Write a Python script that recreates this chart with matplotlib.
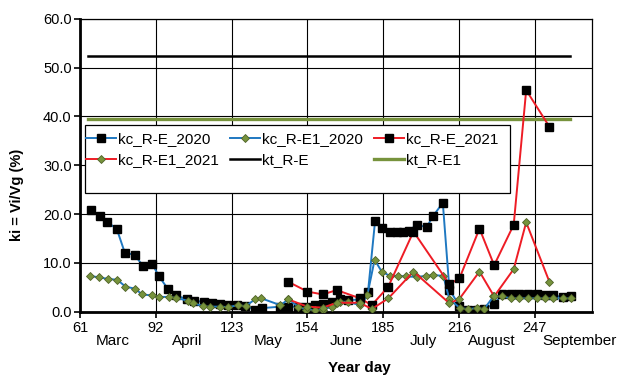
"""Seasonal ki = Vi/Vg curves for the R-E and R-E1 plots, 2020 and 2021."""

import matplotlib

matplotlib.use("Agg")
import matplotlib.pyplot as plt
from matplotlib.patches import Rectangle
from matplotlib.transforms import blended_transform_factory

plt.rcParams["font.family"] = ["Liberation Sans", "DejaVu Sans"]

# kc_R-E, 2020 season
days_e_2020 = [65.4, 69.1, 72.2, 76.0, 79.3, 83.4, 86.8, 90.5, 93.2, 97.0,
               100.4, 104.7, 107.5, 111.8, 114.9, 118.3, 121.7, 125.4, 128.5,
               132.6, 135.4, 143.0, 146.2, 150.3, 153.5, 157.0, 160.4, 164.0,
               167.4, 170.5, 175.6, 178.8, 181.7, 184.4, 187.8, 190.8, 193.3,
               195.7, 198.7, 202.8, 205.3, 209.4, 212.1, 216.2, 219.9, 223.3,
               226.3, 230.4, 233.6, 237.3, 240.7, 244.4, 247.8, 251.2, 254.6,
               258.4, 261.7]
ki_e_2020 = [20.8, 19.6, 18.3, 17.0, 12.1, 11.6, 9.3, 9.8, 7.3, 4.6,
             3.3, 2.5, 2.2, 2.0, 1.8, 1.6, 1.3, 1.3, 1.2,
             0.4, 0.7, 1.0, 1.0, 1.0, 1.0, 1.3, 1.5, 2.0,
             2.5, 2.3, 2.5, 4.0, 18.6, 17.2, 16.3, 16.3, 16.3,
             16.6, 17.8, 17.3, 19.5, 22.3, 4.5, 1.2, 0.4, 0.4,
             0.6, 1.5, 3.5, 3.5, 3.5, 3.5, 3.5, 3.4, 3.3,
             3.0, 3.2]

# kc_R-E1, 2020 season
days_e1_2020 = [65.1, 68.9, 72.4, 76.3, 79.6, 83.4, 86.5, 90.5, 93.4, 97.2,
                100.4, 105.1, 107.4, 111.5, 114.2, 118.3, 121.7, 125.5, 128.7,
                132.6, 135.2, 143.0, 146.2, 150.3, 153.5, 157.0, 160.4, 164.0,
                167.4, 170.5, 175.6, 178.5, 181.5, 184.4, 187.8, 191.2, 194.5,
                198.7, 202.5, 205.5, 209.6, 212.1, 216.5, 219.9, 223.3, 226.3,
                230.1, 233.6, 237.3, 240.7, 244.4, 247.8, 251.2, 254.6, 258.4,
                261.7]
ki_e1_2020 = [7.3, 7.0, 6.7, 6.5, 5.1, 4.7, 3.5, 3.3, 3.0, 3.0,
              2.8, 2.2, 1.7, 1.1, 1.0, 1.0, 0.9, 1.3, 1.1,
              2.5, 2.7, 1.3, 2.5, 1.0, 0.4, 0.3, 0.4, 1.0,
              2.0, 2.0, 1.3, 3.3, 10.6, 8.2, 7.3, 7.3, 7.2,
              7.1, 7.3, 7.5, 7.3, 2.5, 0.7, 0.5, 0.7, 0.5,
              3.1, 3.1, 2.7, 2.7, 2.7, 2.7, 2.7, 2.7, 2.7,
              2.7]

# 2021 season, both plots sampled on the same dates
days_2021 = [146.2, 154.0, 160.3, 166.0, 175.6, 180.3, 187.1, 197.4, 212.1,
             216.2, 224.4, 230.4, 238.4, 243.5, 253.0]
ki_e_2021 = [6.1, 4.1, 3.5, 4.4, 2.7, 1.3, 5.1, 16.4, 5.6,
             6.8, 17.0, 9.5, 17.8, 45.4, 37.9]
ki_e1_2021 = [2.5, 1.0, 0.8, 1.8, 1.8, 0.5, 2.7, 8.2, 1.7,
              2.6, 8.2, 3.1, 8.7, 18.3, 6.1]

# threshold values kt
kt_days = [64.3, 261.5]
kt_e = [52.3, 52.3]
kt_e1 = [39.4, 39.4]

day_ticks = [61, 92, 123, 154, 185, 216, 247]
month_names = ["Marc", "April", "May", "June", "July", "August", "September"]
month_days = [74.5, 104.7, 138.0, 169.8, 201.5, 229.4, 265.5]

BLUE = "#1f78c1"
RED = "#ee1c25"
GREEN = "#77933c"
GREEN_EDGE = "#4f6228"

fig = plt.figure(figsize=(6.27, 3.79), dpi=100)
ax = fig.add_axes([0.1276, 0.178, 0.8161, 0.772])

sq = dict(marker="s", markersize=5.4, markerfacecolor="black",
          markeredgecolor="black")
dm = dict(marker="D", markersize=4.4, markerfacecolor=GREEN,
          markeredgecolor=GREEN_EDGE, markeredgewidth=0.6)

h1, = ax.plot(days_e_2020, ki_e_2020, color=BLUE, lw=1.4, zorder=3, **sq)
h2, = ax.plot(days_e1_2020, ki_e1_2020, color=BLUE, lw=1.4, zorder=3, **dm)
h3, = ax.plot(days_2021, ki_e_2021, color=RED, lw=1.4, zorder=4, **sq)
h4, = ax.plot(days_2021, ki_e1_2021, color=RED, lw=1.4, zorder=4, **dm)
h5, = ax.plot(kt_days, kt_e, color="black", lw=1.8, zorder=3)
h6, = ax.plot(kt_days, kt_e1, color=GREEN, lw=2.4, zorder=3)

ax.set_xlim(61, 270.3)
ax.set_ylim(0, 60)
ax.set_xticks(day_ticks)
ax.set_yticks(range(0, 61, 10))
ax.set_yticklabels([f"{v:.1f}" for v in range(0, 61, 10)])
ax.tick_params(axis="both", direction="out", length=4, width=1.2,
               labelsize=10.5, colors="black", pad=2)
ax.tick_params(axis="x", pad=3)
ax.grid(True, color="black", lw=0.8)
ax.set_axisbelow(True)

for side in ("left", "bottom"):
    ax.spines[side].set_linewidth(2.0)
for side in ("top", "right"):
    ax.spines[side].set_linewidth(0.9)

# month names sit a little below the day numbers
trans = blended_transform_factory(ax.transData, ax.transAxes)
for name, d in zip(month_names, month_days):
    ax.text(d, -0.10, name, transform=trans, ha="center", va="center",
            fontsize=11, clip_on=False)

ax.set_xlabel("Year day", fontsize=11, fontweight="bold")
ax.xaxis.set_label_coords(0.545, -0.17)
ax.set_ylabel("ki = Vi/Vg (%)", fontsize=10.5, fontweight="bold")
ax.yaxis.set_label_coords(-0.11, 0.40)

# white legend box, then the entries drawn over it
ax.add_patch(Rectangle((0.01, 0.405), 0.83, 0.2326, transform=ax.transAxes,
                       facecolor="white", edgecolor="black", lw=0.9,
                       zorder=5))
handles = [h1, h4, h2, h5, h3, h6]
labels = ["kc_R-E_2020", "kc_R-E1_2021", "kc_R-E1_2020", "kt_R-E",
          "kc_R-E_2021", "kt_R-E1"]
leg = ax.legend(handles, labels, ncol=3, frameon=False, fontsize=11,
                loc="upper left", bbox_to_anchor=(0.0, 0.634),
                handlelength=1.96, handletextpad=0.15, columnspacing=0.7,
                labelspacing=0.45, borderaxespad=0.0)
leg.set_zorder(6)

fig.savefig("out.png", dpi=100)
